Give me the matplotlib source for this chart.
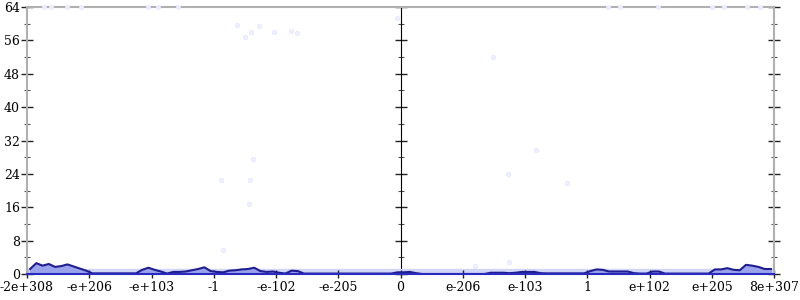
import matplotlib.pyplot as plt
import numpy as np

# tick labels along the x axis (one per integer position, -6..6)
x_labels = ['-2e+308', '-e+206', '-e+103', '-1', '-e-102', '-e-205', '0',
            'e-206', 'e-103', '1', 'e+102', 'e+205', '8e+307']

# density line, 120 bins of width 0.1 from -6 to 6
left_vals = [1.2, 2.6, 2.0, 2.4, 1.7, 1.9, 2.3, 1.8, 1.3, 0.8,
             0.15, 0.15, 0.15, 0.15, 0.15, 0.15, 0.15, 0.15, 1.0, 1.5,
             1.0, 0.6, 0.1, 0.5, 0.5, 0.6, 0.9, 1.2, 1.6, 0.7,
             0.5, 0.4, 0.8, 0.9, 1.1, 1.2, 1.5, 0.7, 0.5, 0.6,
             0.3, 0.1, 0.8, 0.7, 0.1, 0.1, 0.1, 0.1, 0.1, 0.1,
             0.1, 0.1, 0.1, 0.1, 0.1, 0.1, 0.1, 0.1, 0.1, 0.4]
right_vals = [0.4, 0.5, 0.2, 0.0, 0.0, 0.0, 0.0, 0.0, 0.0, 0.0,
              0.0, 0.0, 0.0, 0.0, 0.3, 0.3, 0.3, 0.2, 0.3, 0.5,
              0.5, 0.5, 0.2, 0.15, 0.15, 0.15, 0.15, 0.15, 0.15, 0.15,
              0.7, 1.1, 1.0, 0.6, 0.6, 0.6, 0.6, 0.2, 0.1, 0.1,
              0.6, 0.6, 0.1, 0.1, 0.1, 0.1, 0.1, 0.1, 0.1, 0.1,
              1.1, 1.1, 1.4, 1.0, 0.9, 2.2, 2.0, 1.7, 1.2, 1.2]
line_vals = left_vals + right_vals
bin_centers = np.arange(-5.95, 6.0, 0.1)

# faint outlier samples (x in tick units, y value)
pts_x = [-5.73, -5.62, -5.35, -5.14, -4.06, -3.9, -3.58, -2.62, -2.27, -2.4,
         -2.5, -2.03, -1.76, -1.66, -0.05, -2.37, -2.89, -2.42, -2.44, -2.85,
         2.17, 1.73, 2.67, 1.19, 1.75, 1.49, 3.33, 3.53, 4.13, 5.0,
         5.2, 5.57, 5.78]
pts_y = [64, 64, 64, 64, 64, 64, 64, 59.7, 59.5, 58.0,
         56.8, 58.0, 58.3, 57.8, 61.4, 27.6, 22.5, 22.5, 16.8, 5.8,
         29.7, 24.0, 21.8, 2.0, 2.9, 52.0, 64, 64, 64, 64,
         64, 64, 64]

fig = plt.figure(figsize=(8, 3), dpi=100)
ax = fig.add_axes([27 / 800, 26 / 300, 747 / 800, 267 / 300])
plt.rcParams['font.family'] = 'DejaVu Serif'

ax.axhspan(0, 1.2, color='#d2d6f8', zorder=1)
ax.fill_between(bin_centers, 0, line_vals, color='#9aa2ec', zorder=2)
ax.plot(bin_centers, line_vals, color='#1e1e90', lw=1.5, zorder=4)
ax.scatter(pts_x, pts_y, s=10, color='#eff0ff', edgecolors='#e4e6ff',
           linewidths=0.5, zorder=3, clip_on=False)

ax.set_xlim(-6, 6)
ax.set_ylim(0, 64)
ax.set_xticks(range(-6, 7))
ax.set_xticklabels(x_labels, fontsize=9, family='DejaVu Serif')
ax.set_yticks(range(0, 65, 8))
ax.set_yticks(range(4, 64, 8), minor=True)
ax.set_yticklabels([str(v) for v in range(0, 65, 8)], fontsize=9,
                   family='DejaVu Serif')

for side in ['left', 'right', 'top']:
    ax.spines[side].set_color('#b0b0b0')
    ax.spines[side].set_linewidth(1.5)
ax.spines['bottom'].set_color('#2a2ac0')
ax.spines['bottom'].set_linewidth(1.5)
ax.spines['bottom'].set_zorder(5)

ax.tick_params(axis='y', which='major', direction='inout', length=8,
               width=1, right=True, pad=1, color='#222222')
ax.tick_params(axis='y', which='minor', direction='inout', length=4,
               width=0.8, right=True, color='#555555')
ax.tick_params(axis='x', direction='inout', length=6, width=1, pad=2,
               color='#222222')

# middle axis at zero
mid = ax.secondary_yaxis(0.5)
mid.spines['left'].set_color('#b0b0b0')
mid.spines['left'].set_linewidth(1.5)
mid.set_yticks(range(0, 65, 8))
mid.set_yticks(range(4, 64, 8), minor=True)
mid.set_yticklabels([])
mid.tick_params(which='major', direction='inout', length=8, width=1,
                labelleft=False, labelright=False, color='#222222')
mid.tick_params(which='minor', direction='inout', length=4, width=0.8,
                color='#555555')

fig.savefig('out.png', dpi=100)
